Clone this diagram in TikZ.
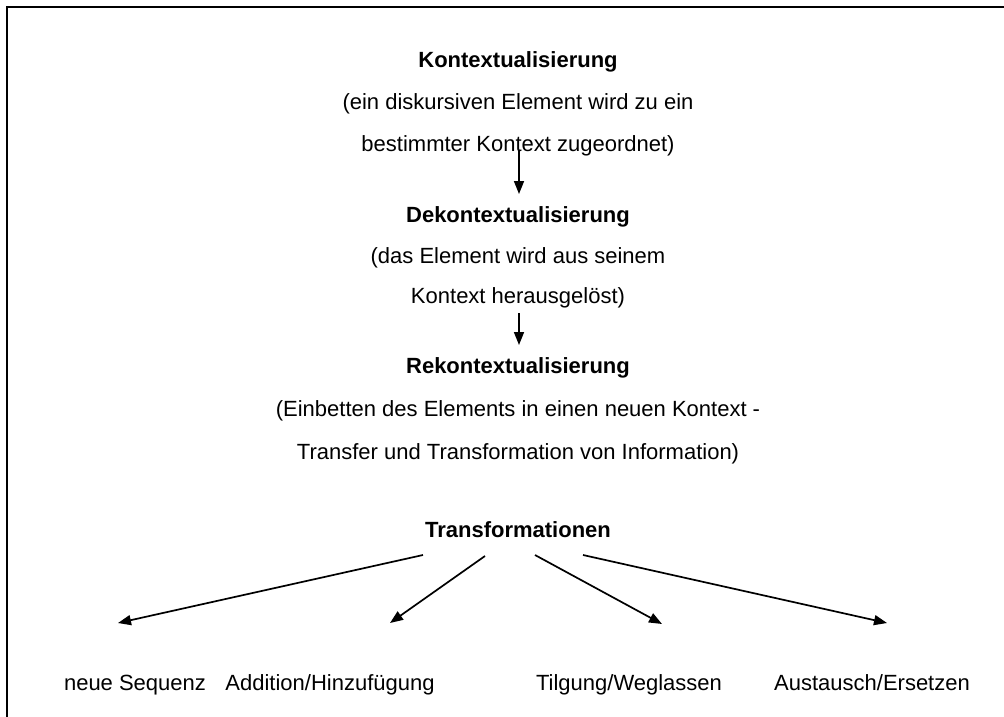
\documentclass[tikz,border=0pt]{standalone}
\usepackage{fontspec}
\setmainfont{Liberation Sans}
\usetikzlibrary{arrows.meta}
\begin{document}
\begin{tikzpicture}[x=1pt,y=-1pt,
  txt/.style={inner sep=0pt, anchor=base, font=\fontsize{22}{26}\selectfont},
  ttl/.style={txt, font=\fontsize{22}{26}\selectfont\bfseries},
  arr/.style={line width=1.7pt, -{Triangle[length=13pt,width=10pt]}},
  frame/.style={line width=2pt}]
\useasboundingbox (0,0) rectangle (1004,717);
\draw[frame] (7,717) -- (7,7) -- (1004,7);

\node[ttl] (k1) at (518,67) {Kontextualisierung};
\node[txt] (k2) at (518,109) {(ein diskursiven Element wird zu ein};
\node[txt] (k3) at (518,151) {bestimmter Kontext zugeordnet)};

\node[ttl] (d1) at (518,222) {Dekontextualisierung};
\node[txt] (d2) at (518,263) {(das Element wird aus seinem};
\node[txt] (d3) at (518,303) {Kontext herausgelöst)};

\node[ttl] (r1) at (518,373) {Rekontextualisierung};
\node[txt] (r2) at (518,416) {(Einbetten des Elements in einen neuen Kontext -};
\node[txt] (r3) at (518,459) {Transfer und Transformation von Information)};

\node[ttl] (t) at (518,537) {Transformationen};

\node[txt] (b1) at (135,690) {neue Sequenz};
\node[txt] (b2) at (330,690) {Addition/Hinzufügung};
\node[txt] (b3) at (629,690) {Tilgung/Weglassen};
\node[txt] (b4) at (872,690) {Austausch/Ersetzen};

\coordinate (a1s) at (519,150);
\coordinate (a1e) at (519,194);
\coordinate (a2s) at (519,313);
\coordinate (a2e) at (519,345);
\draw[arr] (a1s) -- (a1e);
\draw[arr] (a2s) -- (a2e);

\coordinate (s1) at (423,555);
\coordinate (s2) at (485,556);
\coordinate (s3) at (535,555);
\coordinate (s4) at (583,555);
\coordinate (e1) at (118,623);
\coordinate (e2) at (390,623);
\coordinate (e3) at (662,624);
\coordinate (e4) at (887,623);
\draw[arr] (s1) -- (e1);
\draw[arr] (s2) -- (e2);
\draw[arr] (s3) -- (e3);
\draw[arr] (s4) -- (e4);
\end{tikzpicture}
\end{document}
